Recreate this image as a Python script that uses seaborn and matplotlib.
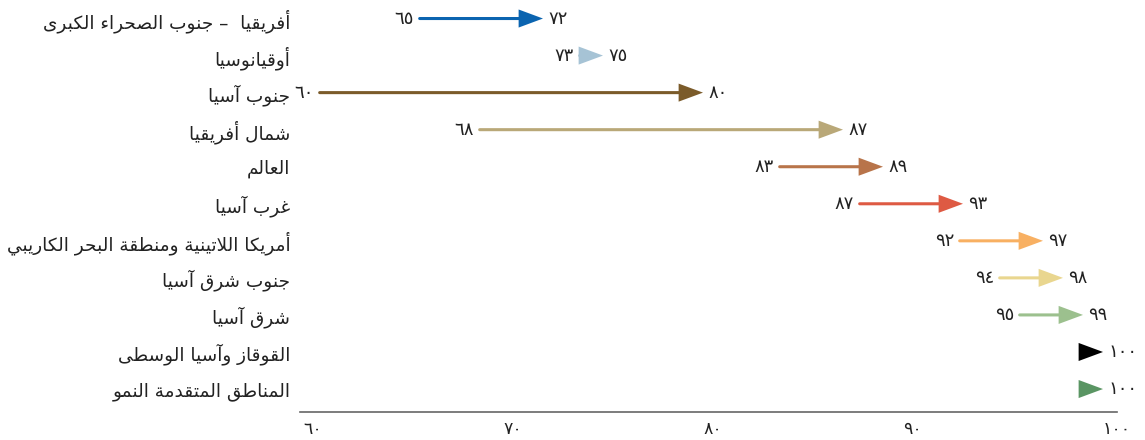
import matplotlib
matplotlib.use("Agg")
import matplotlib.pyplot as plt
import seaborn as sns

# المناطق (من الأعلى إلى الأسفل)
regions = [
    "أفريقيا  – جنوب الصحراء الكبرى",
    "أوقيانوسيا",
    "جنوب آسيا",
    "شمال أفريقيا",
    "العالم",
    "غرب آسيا",
    "أمريكا اللاتينية ومنطقة البحر الكاريبي",
    "جنوب شرق آسيا",
    "شرق آسيا",
    "القوقاز وآسيا الوسطى",
    "المناطق المتقدمة النمو",
]
start_vals = [65, 73, 60, 68, 83, 87, 92, 94, 95, 100, 100]
end_vals = [72, 75, 80, 87, 89, 93, 97, 98, 99, 100, 100]
colors = ["#0b64b0", "#a6c3d5", "#7b5b2a", "#b9a878", "#b8744a", "#de5a43",
          "#f8b062", "#e9d68f", "#9cc08e", "#000000", "#5a9563"]
x_ticks = [60, 70, 80, 90, 100]

# --- تشكيل النص العربي (matplotlib لا يربط الحروف) ---
DUAL = {'ئ': 0xFE89, 'ب': 0xFE8F, 'ت': 0xFE95, 'ث': 0xFE99, 'ج': 0xFE9D, 'ح': 0xFEA1,
        'خ': 0xFEA5, 'س': 0xFEB1, 'ش': 0xFEB5, 'ص': 0xFEB9, 'ض': 0xFEBD, 'ط': 0xFEC1,
        'ظ': 0xFEC5, 'ع': 0xFEC9, 'غ': 0xFECD, 'ف': 0xFED1, 'ق': 0xFED5, 'ك': 0xFED9,
        'ل': 0xFEDD, 'م': 0xFEE1, 'ن': 0xFEE5, 'ه': 0xFEE9, 'ي': 0xFEF1}
RIGHT = {'آ': 0xFE81, 'أ': 0xFE83, 'ؤ': 0xFE85, 'إ': 0xFE87, 'ا': 0xFE8D, 'ة': 0xFE93,
         'د': 0xFEA9, 'ذ': 0xFEAB, 'ر': 0xFEAD, 'ز': 0xFEAF, 'و': 0xFEED, 'ى': 0xFEEF}
NONE = {'ء': 0xFE80}
LAM_ALEF = {'آ': 0xFEF5, 'أ': 0xFEF7, 'إ': 0xFEF9, 'ا': 0xFEFB}


def shape(text):
    out = []
    i, n = 0, len(text)
    while i < n:
        c = text[i]
        prev = text[i - 1] if i > 0 else ''
        joins_prev = prev in DUAL and (c in DUAL or c in RIGHT)
        if c == 'ل' and i + 1 < n and text[i + 1] in LAM_ALEF:
            out.append(chr(LAM_ALEF[text[i + 1]] + (1 if joins_prev else 0)))
            i += 2
            continue
        nxt = text[i + 1] if i + 1 < n else ''
        joins_next = c in DUAL and (nxt in DUAL or nxt in RIGHT)
        if c in DUAL:
            idx = {(False, False): 0, (True, False): 1,
                   (False, True): 2, (True, True): 3}[(joins_prev, joins_next)]
            out.append(chr(DUAL[c] + idx))
        elif c in RIGHT:
            out.append(chr(RIGHT[c] + (1 if joins_prev else 0)))
        elif c in NONE:
            out.append(chr(NONE[c]))
        else:
            out.append(c)
        i += 1
    return ''.join(reversed(out))


DIGITS = str.maketrans('0123456789', '٠١٢٣٤٥٦٧٨٩')


def num(v):
    return str(v).translate(DIGITS)


sns.set_theme(style="white")
plt.rcParams['font.family'] = ['DejaVu Sans']

fig = plt.figure(figsize=(11.45, 4.4), dpi=100)
ax = fig.add_axes([300 / 1145, 28 / 440, 817 / 1145, 412 / 440])

for i, (s, e, c) in enumerate(zip(start_vals, end_vals, colors)):
    # جسم السهم
    if e > s:
        ax.annotate("", xy=(e, i), xytext=(s, i),
                    arrowprops=dict(arrowstyle="-", color=c, lw=2.2,
                                    shrinkA=12, shrinkB=8))
        ax.annotate(num(s), xy=(s, i), xytext=(8, 0), textcoords="offset points",
                    ha="right", va="center", fontsize=13, color="#222222")
    # رأس السهم
    ax.annotate("", xy=(e, i), xytext=(-20, 0), textcoords="offset points",
                arrowprops=dict(arrowstyle="-|>,head_length=1.35,head_width=0.5",
                                mutation_scale=13, color=c, lw=0,
                                shrinkA=0, shrinkB=0))
    ax.annotate(num(e), xy=(e, i), xytext=(4, 0), textcoords="offset points",
                ha="left", va="center", fontsize=13, color="#222222")

ax.set_xlim(59.85, 100.7)
ax.set_ylim(10.62, -0.5)
ax.set_yticks(range(len(regions)), [shape(r) for r in regions], fontsize=13.3)
ax.set_xticks(x_ticks, [num(t) for t in x_ticks], fontsize=12.5)
for lbl in ax.get_xticklabels():
    lbl.set_ha("left")
ax.tick_params(axis="y", length=0, pad=7, colors="#222222")
ax.tick_params(axis="x", length=0, pad=6, colors="#222222")

sns.despine(ax=ax, left=True)
ax.spines["bottom"].set_color("#666666")
ax.spines["bottom"].set_linewidth(1.2)
ax.grid(False)

fig.savefig("out.png", dpi=100)
